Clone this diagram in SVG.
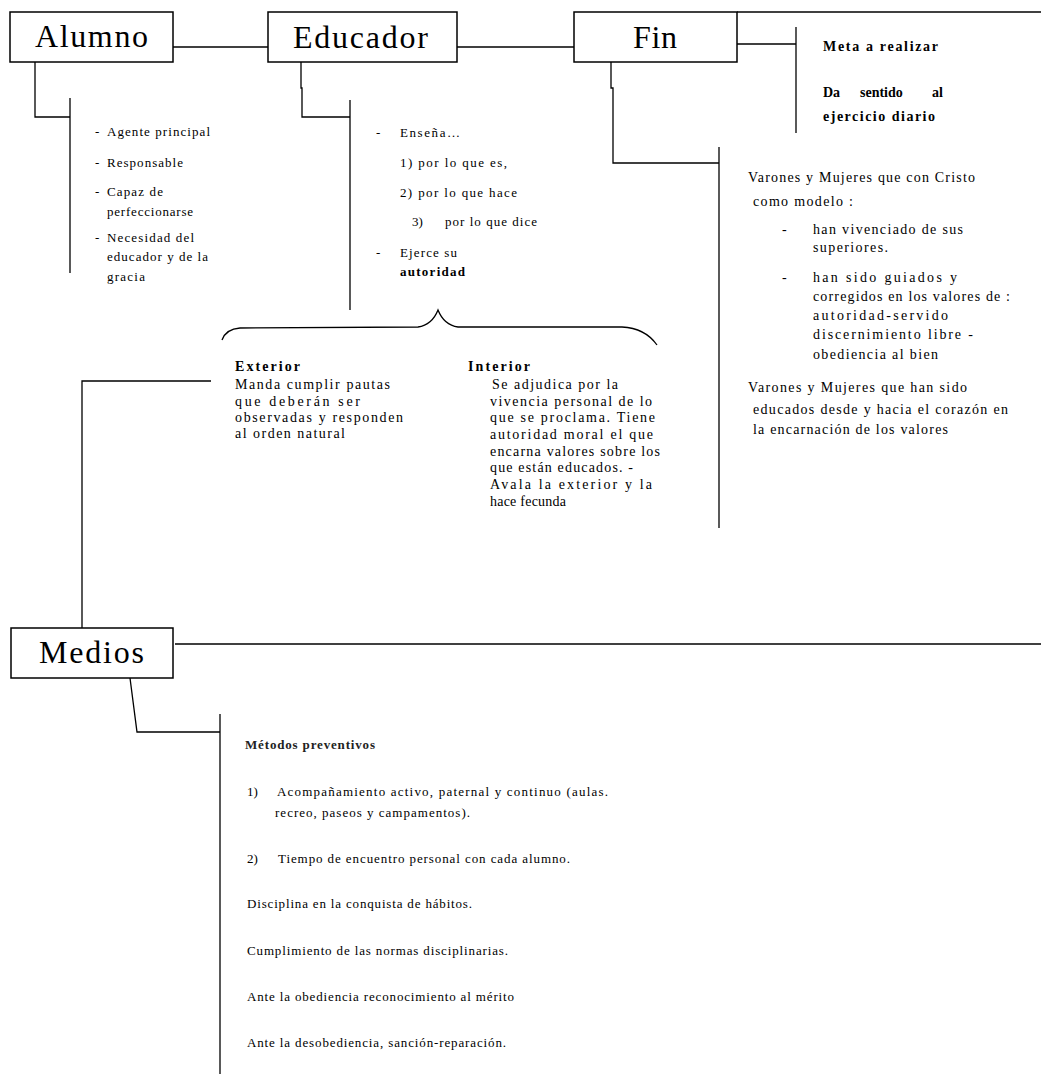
<svg xmlns="http://www.w3.org/2000/svg" width="1041" height="1074" viewBox="0 0 1041 1074">
<style>
.box{fill:#fff;stroke:#000;stroke-width:1.5}
.ln{fill:none;stroke:#000;stroke-width:1.3}
.title{font-family:"Liberation Serif","Times New Roman",serif;font-size:32px;fill:#000}
.t{font-family:"Liberation Serif","Times New Roman",serif;font-size:14px;fill:#000}
.s{font-size:13px}
.b{font-weight:bold}
</style>
<rect width="1041" height="1074" fill="#fff"/>
<g id="connectors">
<line class="ln" x1="173" y1="47" x2="268" y2="47"/>
<line class="ln" x1="457" y1="47" x2="574" y2="47"/>
<line class="ln" x1="737" y1="12" x2="1041" y2="12"/>
<line class="ln" x1="737" y1="44" x2="796" y2="44"/>
<line class="ln" x1="796" y1="27" x2="796" y2="133"/>
<path class="ln" d="M35,62 V117 H70"/>
<line class="ln" x1="70" y1="98" x2="70" y2="273"/>
<path class="ln" d="M301,62 V88 H302 V117 H350"/>
<line class="ln" x1="350" y1="100" x2="350" y2="310"/>
<path class="ln" d="M611,62 V88 H613 V163 H719"/>
<line class="ln" x1="719" y1="147" x2="719" y2="528"/>
<path class="ln" d="M222,340 Q226,329 240,328 L418,327 Q432,325 438,310 Q444,325 458,327 L622,327 Q645,328 657,345"/>
<path class="ln" d="M211,381 H82 V628"/>
<line class="ln" x1="175" y1="644" x2="1041" y2="644"/>
<path class="ln" d="M130,678 L137,732 H220"/>
<line class="ln" x1="220" y1="714" x2="220" y2="1074"/>
</g>
<g id="alumno">
<rect class="box" x="10" y="12" width="163" height="50"/>
<text class="title" x="35" y="47" textLength="113" lengthAdjust="spacing">Alumno</text>
</g>
<g id="alumno-text" class="t s">
<text x="95" y="136">-</text><text x="107" y="136" textLength="103" lengthAdjust="spacing">Agente principal</text>
<text x="95" y="167">-</text><text x="107" y="167" textLength="76" lengthAdjust="spacing">Responsable</text>
<text x="95" y="196">-</text><text x="107" y="196" textLength="56" lengthAdjust="spacing">Capaz de</text>
<text x="107" y="216" textLength="86" lengthAdjust="spacing">perfeccionarse</text>
<text x="95" y="242">-</text><text x="107" y="242" textLength="87" lengthAdjust="spacing">Necesidad del</text>
<text x="107" y="261" textLength="101" lengthAdjust="spacing">educador y de la</text>
<text x="107" y="281" textLength="38" lengthAdjust="spacing">gracia</text>
</g>
<g id="educador">
<rect class="box" x="268" y="12" width="189" height="50"/>
<text class="title" x="293" y="48" textLength="135" lengthAdjust="spacing">Educador</text>
</g>
<g id="educador-text" class="t s">
<text x="376" y="137">-</text><text x="400" y="137" textLength="60" lengthAdjust="spacing">Enseña…</text>
<text x="400" y="167" textLength="107" lengthAdjust="spacing">1) por lo que es,</text>
<text x="400" y="197" textLength="117" lengthAdjust="spacing">2) por lo que hace</text>
<text x="412" y="226">3)</text><text x="445" y="226" textLength="92" lengthAdjust="spacing">por lo que dice</text>
<text x="376" y="257">-</text><text x="400" y="257" textLength="57" lengthAdjust="spacing">Ejerce su</text>
<text class="b" x="400" y="276" textLength="65" lengthAdjust="spacing">autoridad</text>
</g>
<g id="exterior" class="t">
<text class="b" x="235" y="371" textLength="65" lengthAdjust="spacing">Exterior</text>
<text x="235" y="389" textLength="155" lengthAdjust="spacing">Manda cumplir pautas</text>
<text x="235" y="406" textLength="125" lengthAdjust="spacing">que deberán ser</text>
<text x="235" y="422" textLength="168" lengthAdjust="spacing">observadas y responden</text>
<text x="235" y="438" textLength="110" lengthAdjust="spacing">al orden natural</text>
</g>
<g id="interior" class="t">
<text class="b" x="468" y="371" textLength="62" lengthAdjust="spacing">Interior</text>
<text x="492" y="389" textLength="126" lengthAdjust="spacing">Se adjudica por la</text>
<text x="490" y="406" textLength="162" lengthAdjust="spacing">vivencia personal de lo</text>
<text x="490" y="422" textLength="165" lengthAdjust="spacing">que se proclama. Tiene</text>
<text x="490" y="439" textLength="163" lengthAdjust="spacing">autoridad moral el que</text>
<text x="490" y="456" textLength="170" lengthAdjust="spacing">encarna valores sobre los</text>
<text x="490" y="472" textLength="143" lengthAdjust="spacing">que están educados. -</text>
<text x="490" y="489" textLength="162" lengthAdjust="spacing">Avala la exterior y la</text>
<text x="490" y="506" textLength="76" lengthAdjust="spacing">hace fecunda</text>
</g>
<g id="fin">
<rect class="box" x="574" y="12" width="163" height="50"/>
<text class="title" x="633" y="48" textLength="44" lengthAdjust="spacing">Fin</text>
</g>
<g id="fin-meta" class="t b">
<text x="823" y="51" textLength="115" lengthAdjust="spacing">Meta a realizar</text>
<text y="97"><tspan x="823">Da</tspan><tspan x="860">sentido</tspan><tspan x="932">al</tspan></text>
<text x="823" y="121" textLength="112" lengthAdjust="spacing">ejercicio diario</text>
</g>
<g id="fin-text" class="t">
<text x="748" y="182" textLength="227" lengthAdjust="spacing">Varones y Mujeres que con Cristo</text>
<text x="753" y="206" textLength="100" lengthAdjust="spacing">como modelo :</text>
<text x="782" y="234">-</text><text x="813" y="234" textLength="150" lengthAdjust="spacing">han vivenciado de sus</text>
<text x="813" y="252" textLength="75" lengthAdjust="spacing">superiores.</text>
<text x="782" y="282">-</text><text x="813" y="282" textLength="144" lengthAdjust="spacing">han sido guiados y</text>
<text x="813" y="301" textLength="197" lengthAdjust="spacing">corregidos en los valores de :</text>
<text x="813" y="320" textLength="135" lengthAdjust="spacing">autoridad-servido</text>
<text x="813" y="339" textLength="160" lengthAdjust="spacing">discernimiento libre -</text>
<text x="813" y="359" textLength="125" lengthAdjust="spacing">obediencia al bien</text>
<text x="748" y="392" textLength="219" lengthAdjust="spacing">Varones y Mujeres que han sido</text>
<text x="753" y="414" textLength="255" lengthAdjust="spacing">educados desde y hacia el corazón en</text>
<text x="753" y="434" textLength="195" lengthAdjust="spacing">la encarnación de los valores</text>
</g>
<g id="medios">
<rect class="box" x="11" y="628" width="162" height="50"/>
<text class="title" x="39" y="663" textLength="105" lengthAdjust="spacing">Medios</text>
</g>
<g id="medios-text" class="t s">
<text class="b" x="245" y="749" fill="#222" textLength="130" lengthAdjust="spacing">Métodos preventivos</text>
<text x="247" y="796">1)</text><text x="277" y="796" textLength="331" lengthAdjust="spacing">Acompañamiento activo, paternal y continuo (aulas.</text>
<text x="275" y="817" textLength="195" lengthAdjust="spacing">recreo, paseos y campamentos).</text>
<text x="247" y="863">2)</text><text x="278" y="863" textLength="292" lengthAdjust="spacing">Tiempo de encuentro personal con cada alumno.</text>
<text x="247" y="908" textLength="225" lengthAdjust="spacing">Disciplina en la conquista de hábitos.</text>
<text x="247" y="955" textLength="261" lengthAdjust="spacing">Cumplimiento de las normas disciplinarias.</text>
<text x="247" y="1001" textLength="267" lengthAdjust="spacing">Ante la obediencia reconocimiento al mérito</text>
<text x="247" y="1047" textLength="259" lengthAdjust="spacing">Ante la desobediencia, sanción-reparación.</text>
</g>
</svg>
